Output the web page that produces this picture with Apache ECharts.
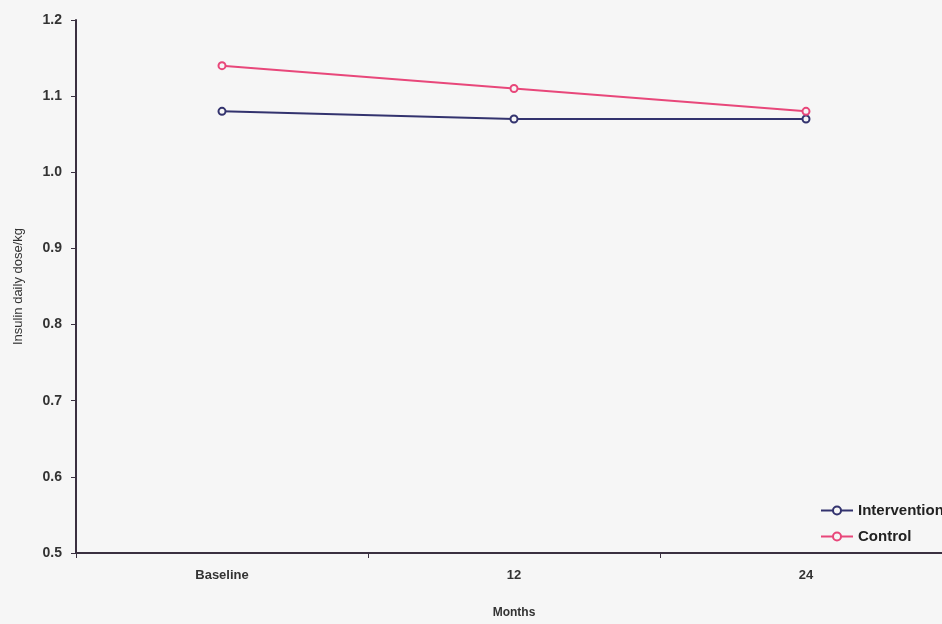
<!DOCTYPE html>
<html><head><meta charset="utf-8">
<script src="https://cdn.jsdelivr.net/npm/echarts@6/dist/echarts.min.js"></script>
<style>html,body{margin:0;padding:0;background:#f6f6f6;overflow:hidden;width:942px;height:624px;}#c{width:970px;height:624px;}</style>
</head><body><div id="c"></div>
<script>
const categories = ['Baseline', '12', '24'];
const intervention = [1.08, 1.07, 1.07];
const control = [1.14, 1.11, 1.08];
const yTicks = [0.5, 0.6, 0.7, 0.8, 0.9, 1.0, 1.1, 1.2];

const chart = echarts.init(document.getElementById('c'));
const font = 'Arial, "Liberation Sans", sans-serif';
chart.setOption({
  backgroundColor: '#f6f6f6',
  animation: false,
  grid: {left: 76, width: 876, top: 20, height: 540},
  legend: {
    data: ['Intervention', 'Control'],
    orient: 'vertical', left: 815, top: 498,
    itemWidth: 32, itemHeight: 10, itemGap: 11,
    textStyle: {fontFamily: font, fontSize: 15, color: '#222', fontWeight: 'bold'}
  },
  xAxis: {
    type: 'category', data: categories, boundaryGap: true,
    name: 'Months', nameLocation: 'middle', nameGap: 54,
    nameTextStyle: {fontFamily: font, fontSize: 12, fontWeight: 'bold', color: '#333'},
    axisLine: {lineStyle: {color: '#3a3040', width: 2}},
    axisTick: {show: true, length: 5, lineStyle: {color: '#3a3040'}},
    axisLabel: {fontFamily: font, fontSize: 13, fontWeight: 'bold', color: '#333', margin: 16}
  },
  yAxis: {
    type: 'value', min: 0.5, max: 1.2, interval: 0.1,
    name: 'Insulin daily dose/kg', nameLocation: 'middle', nameGap: 51, nameRotate: 90,
    nameTextStyle: {fontFamily: font, fontSize: 13, color: '#333'},
    axisLine: {show: true, lineStyle: {color: '#3a3040', width: 2}},
    axisTick: {show: true, length: 5, lineStyle: {color: '#3a3040'}},
    splitLine: {show: false},
    axisLabel: {fontFamily: font, fontSize: 14, fontWeight: 'bold', color: '#333', margin: 14,
      formatter: v => v.toFixed(1)}
  },
  series: [
    {name: 'Intervention', type: 'line', data: intervention, symbol: 'circle', symbolSize: 7,
     lineStyle: {color: '#33336e', width: 2}, itemStyle: {color: '#f6f6f6', borderColor: '#33336e', borderWidth: 2}},
    {name: 'Control', type: 'line', data: control, symbol: 'circle', symbolSize: 7,
     lineStyle: {color: '#e8477a', width: 2}, itemStyle: {color: '#f6f6f6', borderColor: '#e8477a', borderWidth: 2}}
  ]
});
</script></body></html>
